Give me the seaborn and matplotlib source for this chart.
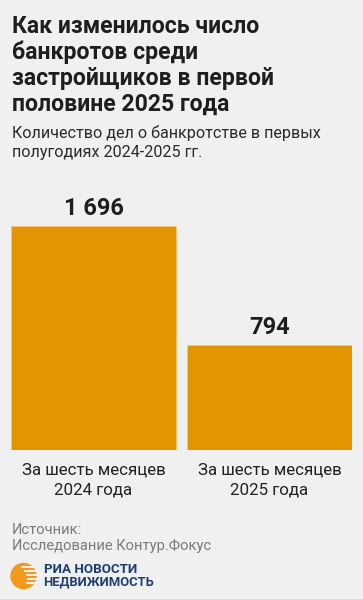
import matplotlib
matplotlib.use("Agg")
import matplotlib.pyplot as plt
import matplotlib.transforms as mtransforms
from matplotlib.patches import Circle
import seaborn as sns
import pandas as pd

# ---- data ----
categories = ["За шесть месяцев\n2024 года", "За шесть месяцев\n2025 года"]
values = [1696, 794]
value_labels = ["1 696", "794"]

title_lines = ["Как изменилось число", "банкротов среди",
               "застройщиков в первой", "половине 2025 года"]
subtitle_lines = ["Количество дел о банкротстве в первых", "полугодиях 2024-2025 гг."]
source_lines = ["Источник:", "Исследование Контур.Фокус"]
logo_lines = ["РИА НОВОСТИ", "НЕДВИЖИМОСТЬ"]

BG = "#f0f0f0"
BAR = "#e29500"
W, H = 363, 600

sns.set_theme(style="white")
plt.rcParams["font.family"] = ["Roboto", "DejaVu Sans"]

fig = plt.figure(figsize=(W / 100, H / 100), dpi=100, facecolor=BG)

def fy(py):
    return 1 - py / H

def fx(px):
    return px / W

# axes: x from 11 to 352 px, bottom at 450 px, ylim 0..2000
scale = 224 / 1696
ax_h_px = 2000 * scale
ax = fig.add_axes([fx(11), fy(450), (352 - 11) / W, ax_h_px / H])
ax.set_facecolor(BG)

df = pd.DataFrame({"cat": categories, "val": values})
sns.barplot(data=df, x="cat", y="val", color=BAR, width=0.9375, saturation=1,
            edgecolor="#f3c873", linewidth=0.5, ax=ax)
ax.set_xlim(-0.46875, 1.46875)
ax.set_ylim(0, 2000)
ax.set_axis_off()

trans = mtransforms.blended_transform_factory(ax.transData, fig.transFigure)

# value labels
for i, (v, lab) in enumerate(zip(values, value_labels)):
    base_px = 450 - v * scale - 11
    ax.text(i, fy(base_px), lab, transform=trans, ha="center", va="baseline",
            fontsize=17, fontweight="bold", color="#1e1e1e")

# category labels
for i, c in enumerate(categories):
    l1, l2 = c.split("\n")
    ax.text(i, fy(474.3), l1, transform=trans, ha="center", va="baseline",
            fontsize=12.2, color="#222222")
    ax.text(i, fy(494.3), l2, transform=trans, ha="center", va="baseline",
            fontsize=12.2, color="#222222")

# title
for k, line in enumerate(title_lines):
    fig.text(fx(11.5), fy(32.8 + 26.1 * k), line, ha="left", va="baseline",
             fontsize=16.55, fontweight="bold", color="#1e1e1e")

# subtitle
for k, line in enumerate(subtitle_lines):
    fig.text(fx(11.5), fy(138.3 + 19 * k), line, ha="left", va="baseline",
             fontsize=11.65, color="#2a2a2a")

# source
for k, line in enumerate(source_lines):
    fig.text(fx(11.5), fy(534.3 + 16 * k), line, ha="left", va="baseline",
             fontsize=10.65, color="#7a7a7a")

# logo
lax = fig.add_axes([0, 0, 1, 1], facecolor="none")
lax.set_xlim(0, W)
lax.set_ylim(H, 0)
lax.set_axis_off()
lax.add_patch(Circle((23.5, 576), 12.5, color="#f39a1e", zorder=2))
for yy, x0 in [(567, 21), (571, 24), (575, 26), (579, 27), (583, 26)]:
    lax.plot([x0, 37], [yy, yy], color=BG, lw=1.4, zorder=3, solid_capstyle="butt")
fig.text(fx(43.5), fy(573), logo_lines[0], ha="left", va="baseline",
         fontsize=9.6, fontweight="bold", color="#1d3f73")
fig.text(fx(43.5), fy(585), logo_lines[1], ha="left", va="baseline",
         fontsize=9.4, fontweight="bold", color="#1d3f73")

lax.plot([0, W], [599.5, 599.5], color="#8a8a8a", lw=1)

fig.savefig("out.png", dpi=100, facecolor=BG)
